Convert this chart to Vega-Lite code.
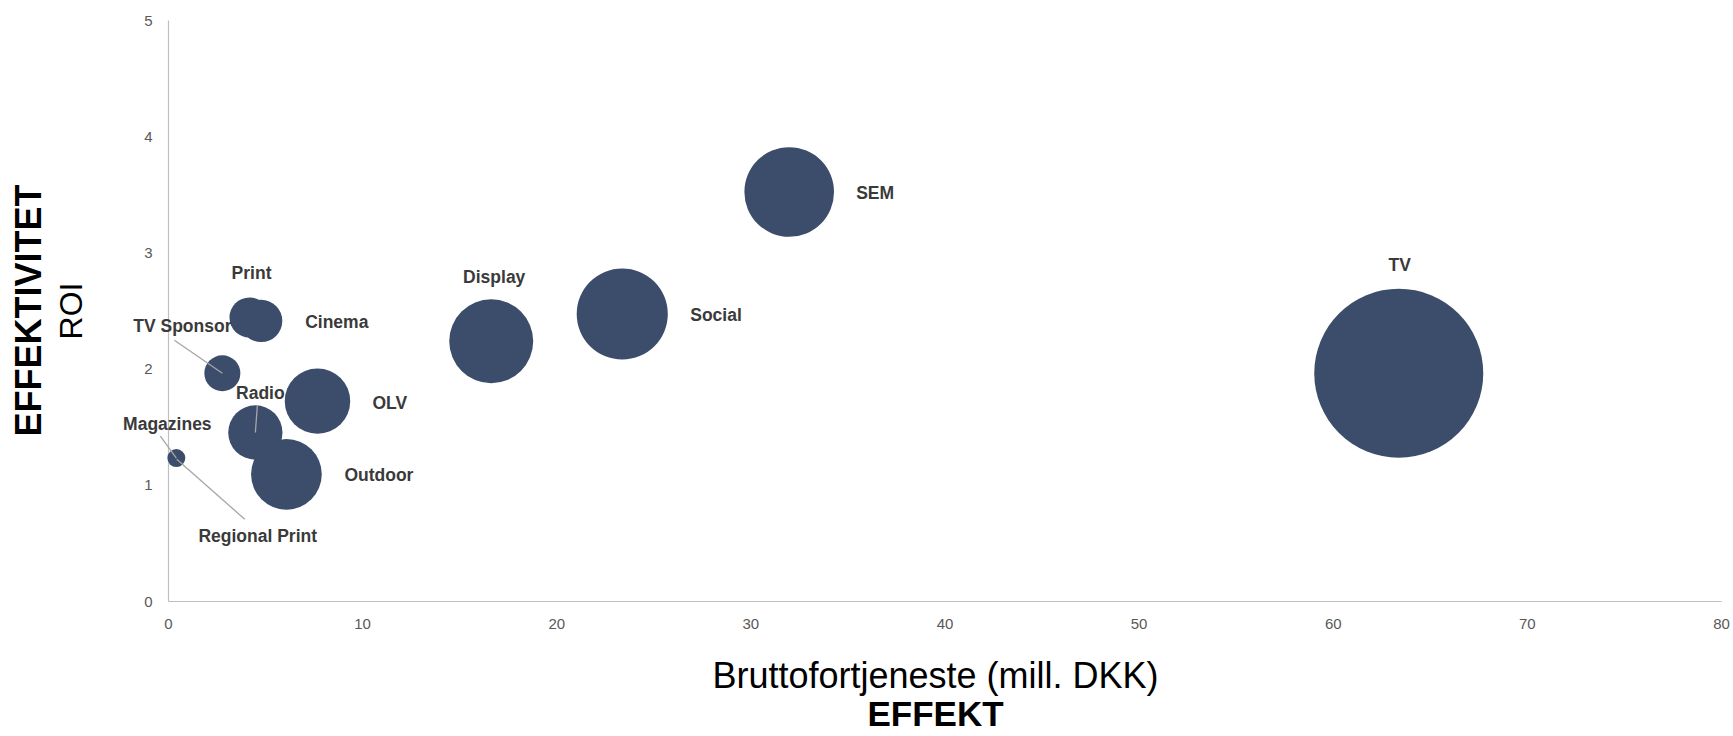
{
  "$schema": "https://vega.github.io/schema/vega-lite/v6.json",
  "background": "white",
  "padding": {"left": 11, "top": 13, "right": 0, "bottom": 0},
  "config": {
    "font": "Liberation Sans",
    "view": {"stroke": null},
    "concat": {"spacing": 0},
    "text": {"fontSize": 17.5, "fontWeight": "bold", "color": "#3A3A3A", "baseline": "middle"},
    "rule": {"color": "#A6A6A6", "strokeWidth": 1.3}
  },
  "title": {
    "text": "EFFEKT",
    "orient": "bottom",
    "anchor": "middle",
    "frame": "group",
    "fontSize": 35,
    "fontWeight": "bold",
    "color": "#000000",
    "offset": 4,
    "dx": -9
  },
  "vconcat": [
    {
      "title": {
        "text": "EFFEKTIVITET",
        "orient": "left",
        "anchor": "middle",
        "fontSize": 36,
        "fontWeight": "bold",
        "color": "#000000",
        "offset": 7
      },
      "width": 1553,
      "height": 581,
      "data": {
        "values": [
          {"medie": "TV", "bruttofortjeneste": 63.4, "roi": 1.96, "budget": 32.0},
          {"medie": "SEM", "bruttofortjeneste": 32.0, "roi": 3.52, "budget": 9.0},
          {"medie": "Social", "bruttofortjeneste": 23.4, "roi": 2.47, "budget": 9.3},
          {"medie": "Display", "bruttofortjeneste": 16.65, "roi": 2.235, "budget": 7.9},
          {"medie": "OLV", "bruttofortjeneste": 7.7, "roi": 1.72, "budget": 4.8},
          {"medie": "Outdoor", "bruttofortjeneste": 6.1, "roi": 1.09, "budget": 5.6},
          {"medie": "Radio", "bruttofortjeneste": 4.5, "roi": 1.45, "budget": 3.3},
          {"medie": "Print", "bruttofortjeneste": 4.2, "roi": 2.44, "budget": 1.8},
          {"medie": "Cinema", "bruttofortjeneste": 4.8, "roi": 2.41, "budget": 2.0},
          {"medie": "TV Sponsor", "bruttofortjeneste": 2.8, "roi": 1.96, "budget": 1.45},
          {"medie": "Regional Print", "bruttofortjeneste": 0.45, "roi": 1.22, "budget": 0.1},
          {"medie": "Magazines", "bruttofortjeneste": 0.43, "roi": 1.23, "budget": 0.36}
        ]
      },
      "encoding": {
        "x": {
          "field": "bruttofortjeneste",
          "type": "quantitative",
          "scale": {"domain": [0, 80], "nice": false},
          "axis": {
            "values": [0, 10, 20, 30, 40, 50, 60, 70, 80],
            "title": "Bruttofortjeneste (mill. DKK)",
            "titleFontSize": 36,
            "titleFontWeight": "normal",
            "titleColor": "#000000",
            "titlePadding": 28,
            "titleX": 767,
            "labelFontSize": 15,
            "labelColor": "#595959",
            "labelPadding": 15,
            "labelFlush": false,
            "ticks": false,
            "grid": false,
            "domainColor": "#BFBFBF",
            "domainWidth": 1.2
          }
        },
        "y": {
          "field": "roi",
          "type": "quantitative",
          "scale": {"domain": [0, 5], "nice": false},
          "axis": {
            "values": [0, 1, 2, 3, 4, 5],
            "title": "ROI",
            "titleFontSize": 32,
            "titleFontWeight": "normal",
            "titleColor": "#000000",
            "titlePadding": 55,
            "labelFontSize": 15,
            "labelColor": "#595959",
            "labelPadding": 16,
            "labelFlush": false,
            "ticks": false,
            "grid": false,
            "domainColor": "#BFBFBF",
            "domainWidth": 1.2
          }
        }
      },
      "layer": [
        {
          "mark": {"type": "circle", "opacity": 1, "color": "#3B4D6A"},
          "encoding": {
            "size": {
              "field": "budget",
              "type": "quantitative",
              "scale": {"domain": [0, 32], "range": [0, 28561]},
              "legend": null
            }
          }
        },
        {
          "transform": [{"filter": "datum.medie === 'TV Sponsor'"}],
          "mark": {"type": "rule", "x2Offset": -48, "y2Offset": -33},
          "encoding": {"x2": {"field": "bruttofortjeneste"}, "y2": {"field": "roi"}}
        },
        {
          "transform": [{"filter": "datum.medie === 'Radio'"}],
          "mark": {"type": "rule", "x2Offset": 2, "y2Offset": -27},
          "encoding": {"x2": {"field": "bruttofortjeneste"}, "y2": {"field": "roi"}}
        },
        {
          "transform": [{"filter": "datum.medie === 'Magazines'"}],
          "mark": {"type": "rule", "x2Offset": -16, "y2Offset": -22},
          "encoding": {"x2": {"field": "bruttofortjeneste"}, "y2": {"field": "roi"}}
        },
        {
          "transform": [{"filter": "datum.medie === 'Regional Print'"}],
          "mark": {"type": "rule", "x2Offset": 68, "y2Offset": 60},
          "encoding": {"x2": {"field": "bruttofortjeneste"}, "y2": {"field": "roi"}}
        },
        {
          "transform": [{"filter": "datum.medie === 'TV'"}],
          "mark": {"type": "text", "align": "center", "dx": 1, "dy": -107},
          "encoding": {"text": {"field": "medie"}}
        },
        {
          "transform": [{"filter": "datum.medie === 'SEM'"}],
          "mark": {"type": "text", "align": "left", "dx": 67, "dy": 2},
          "encoding": {"text": {"field": "medie"}}
        },
        {
          "transform": [{"filter": "datum.medie === 'Social'"}],
          "mark": {"type": "text", "align": "left", "dx": 68, "dy": 2},
          "encoding": {"text": {"field": "medie"}}
        },
        {
          "transform": [{"filter": "datum.medie === 'Display'"}],
          "mark": {"type": "text", "align": "center", "dx": 3, "dy": -63},
          "encoding": {"text": {"field": "medie"}}
        },
        {
          "transform": [{"filter": "datum.medie === 'OLV'"}],
          "mark": {"type": "text", "align": "left", "dx": 55, "dy": 3},
          "encoding": {"text": {"field": "medie"}}
        },
        {
          "transform": [{"filter": "datum.medie === 'Outdoor'"}],
          "mark": {"type": "text", "align": "left", "dx": 58, "dy": 2},
          "encoding": {"text": {"field": "medie"}}
        },
        {
          "transform": [{"filter": "datum.medie === 'Cinema'"}],
          "mark": {"type": "text", "align": "left", "dx": 44, "dy": 2},
          "encoding": {"text": {"field": "medie"}}
        },
        {
          "transform": [{"filter": "datum.medie === 'Print'"}],
          "mark": {"type": "text", "align": "center", "dx": 2, "dy": -43},
          "encoding": {"text": {"field": "medie"}}
        },
        {
          "transform": [{"filter": "datum.medie === 'Radio'"}],
          "mark": {"type": "text", "align": "center", "dx": 5, "dy": -39},
          "encoding": {"text": {"field": "medie"}}
        },
        {
          "transform": [{"filter": "datum.medie === 'TV Sponsor'"}],
          "mark": {"type": "text", "align": "center", "dx": -40, "dy": -46},
          "encoding": {"text": {"field": "medie"}}
        },
        {
          "transform": [{"filter": "datum.medie === 'Magazines'"}],
          "mark": {"type": "text", "align": "center", "dx": -9, "dy": -33},
          "encoding": {"text": {"field": "medie"}}
        },
        {
          "transform": [{"filter": "datum.medie === 'Regional Print'"}],
          "mark": {"type": "text", "align": "center", "dx": 81, "dy": 78},
          "encoding": {"text": {"field": "medie"}}
        }
      ]
    }
  ]
}
